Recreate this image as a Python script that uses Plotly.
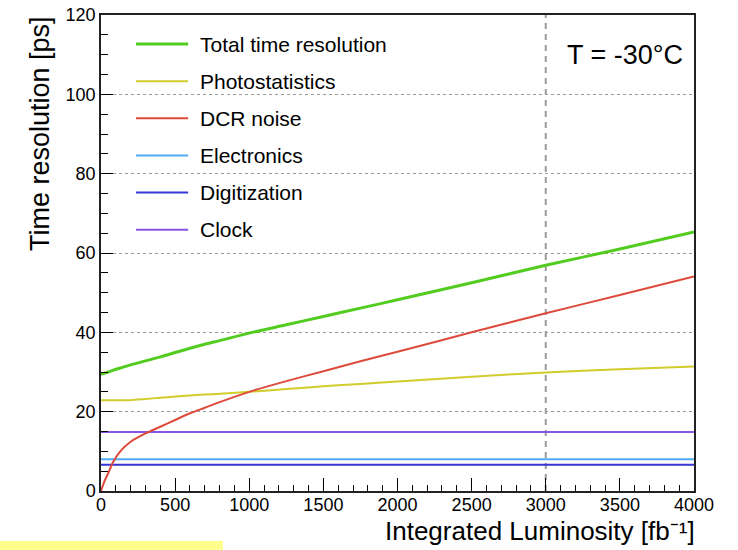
import plotly.graph_objects as go

# ---------------- data ----------------
lumi = [0, 25, 50, 80, 130, 200, 300, 400, 500, 600, 700, 800, 1000,
        1250, 1500, 1750, 2000, 2500, 3000, 3500, 4000]
total = [29.4, 29.7, 30.0, 30.4, 31.0, 31.8, 32.8, 33.8, 34.9, 36.0, 37.0,
         37.9, 39.8, 41.9, 44.0, 46.1, 48.2, 52.5, 56.9, 61.0, 65.3]
photostat = [22.9, 22.9, 22.9, 22.9, 22.9, 22.9, 23.2, 23.5, 23.8, 24.1, 24.3,
             24.5, 25.0, 25.7, 26.4, 27.0, 27.6, 28.8, 29.9, 30.7, 31.4]
dcr = [0.0, 2.6, 4.6, 7.2, 10.0, 12.4, 14.5, 16.2, 17.9, 19.6, 21.0,
       22.4, 25.0, 27.7, 30.2, 32.7, 35.1, 40.0, 44.8, 49.4, 54.1]
flat_lumi = [0, 4000]
electronics = [8.0, 8.0]
digitization = [6.6, 6.6]
clock = [14.9, 14.9]

series_names = ["Total time resolution", "Photostatistics", "DCR noise",
                "Electronics", "Digitization", "Clock"]
series_colors = ["#52cc1f", "#d2cc2c", "#de4a3a", "#4eaaf5", "#3535d8", "#8a55e6"]
series_widths = [3, 2, 2, 2, 2, 2]

x_ticks = [0, 500, 1000, 1500, 2000, 2500, 3000, 3500, 4000]
y_ticks = [0, 20, 40, 60, 80, 100, 120]
ref_lumi = 3000
temp_label = "T = -30°C"
x_title = "Integrated Luminosity [fb⁻¹]"
y_title = "Time resolution [ps]"

FONT = "Liberation Sans, Arial, Helvetica, sans-serif"

xs = [lumi, lumi, lumi, flat_lumi, flat_lumi, flat_lumi]
ys = [total, photostat, dcr, electronics, digitization, clock]

fig = go.Figure()
order = [5, 4, 3, 1, 2, 0]
for i in order:
    fig.add_trace(go.Scatter(
        x=xs[i], y=ys[i], mode="lines", name=series_names[i],
        line=dict(color=series_colors[i], width=series_widths[i],
                  shape="spline", smoothing=0.8),
        showlegend=False, hoverinfo="skip"))

shapes = []
annotations = []

# white legend background (hides gridlines)
shapes.append(dict(type="rect", xref="paper", yref="paper",
                   x0=0.002, x1=0.556, y0=0.518, y1=0.979,
                   fillcolor="white", line=dict(width=0), layer="between"))

# reference vertical dashed line
shapes.append(dict(type="line", xref="x", yref="paper",
                   x0=ref_lumi, x1=ref_lumi, y0=0, y1=1,
                   line=dict(color="#9a9a9a", width=2, dash="6px,5px"),
                   layer="between"))

# manual legend
leg_top = 0.939
leg_step = 0.078
for i, name in enumerate(series_names):
    yy = leg_top - i * leg_step
    shapes.append(dict(type="line", xref="paper", yref="paper",
                       x0=0.059, x1=0.147, y0=yy, y1=yy,
                       line=dict(color=series_colors[i], width=series_widths[i]),
                       layer="above"))
    annotations.append(dict(xref="paper", yref="paper", x=0.163, y=yy,
                            xanchor="left", yanchor="middle", showarrow=False,
                            text=name, font=dict(family=FONT, size=21, color="black")))

# temperature label
annotations.append(dict(xref="paper", yref="paper", x=0.984, y=0.916,
                        xanchor="right", yanchor="middle", showarrow=False,
                        text=temp_label, font=dict(family=FONT, size=27, color="black")))

# axis titles
annotations.append(dict(xref="paper", yref="paper", x=1.005, y=-0.1197,
                        xanchor="right", yanchor="bottom", showarrow=False,
                        text=x_title,
                        font=dict(family=FONT, size=26, color="black")))
annotations.append(dict(xref="paper", yref="paper", x=-0.103, y=0.752,
                        xanchor="center", yanchor="middle", showarrow=False,
                        textangle=-90, text=y_title,
                        font=dict(family=FONT, size=27, color="black")))

# yellow highlight strip at bottom-left
shapes.append(dict(type="rect", xref="paper", yref="paper",
                   x0=-0.1705, x1=0.2057, y0=-0.126, y1=-0.105,
                   fillcolor="#ffff8c", line=dict(width=0), layer="above"))

fig.update_layout(
    width=738, height=550,
    margin=dict(l=101, r=44, t=15, b=59, autoexpand=False),
    paper_bgcolor="white", plot_bgcolor="white",
    font=dict(family=FONT, size=18, color="black"),
    shapes=shapes, annotations=annotations,
    showlegend=False,
)

fig.update_xaxes(
    range=[0, 4000], tickvals=x_ticks, ticktext=[str(v) for v in x_ticks],
    ticks="inside", ticklen=13, tickwidth=1, tickcolor="black",
    ticklabelstandoff=-3,
    minor=dict(dtick=100, ticks="inside", ticklen=6, tickcolor="black", showgrid=False),
    showgrid=False, zeroline=False, automargin=False,
    showline=True, linecolor="#222", linewidth=1.5, mirror=True,
    tickfont=dict(family=FONT, size=18, color="black"),
)
fig.update_yaxes(
    range=[0, 120], tickvals=y_ticks, ticktext=[str(v) for v in y_ticks],
    ticks="inside", ticklen=12, tickwidth=1, tickcolor="black",
    minor=dict(dtick=5, ticks="inside", ticklen=7, tickcolor="black", showgrid=False),
    showgrid=True, gridcolor="#9a9a9a", gridwidth=1, griddash="dot",
    zeroline=False, automargin=False,
    showline=True, linecolor="#222", linewidth=1.5, mirror=True,
    tickfont=dict(family=FONT, size=18, color="black"),
)

fig.write_html("out.html")
